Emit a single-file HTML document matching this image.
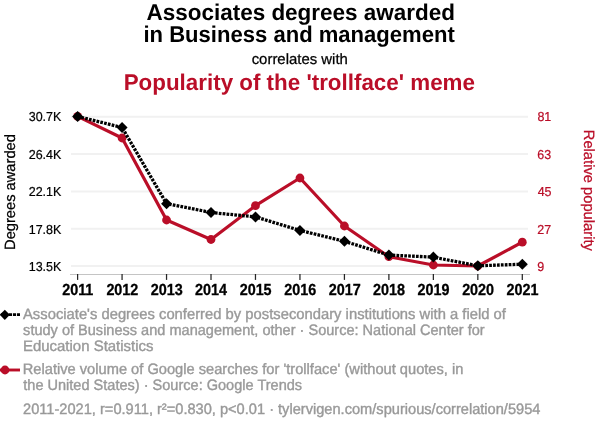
<!DOCTYPE html>
<html><head><meta charset="utf-8"><title>chart</title>
<style>html,body{margin:0;padding:0;background:#fff;}body{width:600px;height:430px;overflow:hidden;font-family:"Liberation Sans",sans-serif;}svg{display:block;will-change:transform;text-rendering:geometricPrecision;}text{font-family:"Liberation Sans",sans-serif;white-space:pre;}</style></head><body>
<svg width="600" height="430" viewBox="0 0 600 430">
<rect width="600" height="430" fill="#fff"/>
<line x1="71" x2="528" y1="116.70" y2="116.70" stroke="#f1f1f1" stroke-width="2"/>
<line x1="71" x2="528" y1="154.05" y2="154.05" stroke="#f1f1f1" stroke-width="2"/>
<line x1="71" x2="528" y1="191.40" y2="191.40" stroke="#f1f1f1" stroke-width="2"/>
<line x1="71" x2="528" y1="228.75" y2="228.75" stroke="#f1f1f1" stroke-width="2"/>
<line x1="71" x2="528" y1="266.10" y2="266.10" stroke="#f1f1f1" stroke-width="2"/>
<line x1="70" x2="530" y1="274.5" y2="274.5" stroke="#c4c4c4" stroke-width="1"/>
<line x1="77.60" x2="77.60" y1="274" y2="279.9" stroke="#262626" stroke-width="1.25"/>
<line x1="122.07" x2="122.07" y1="274" y2="279.9" stroke="#262626" stroke-width="1.25"/>
<line x1="166.54" x2="166.54" y1="274" y2="279.9" stroke="#262626" stroke-width="1.25"/>
<line x1="211.01" x2="211.01" y1="274" y2="279.9" stroke="#262626" stroke-width="1.25"/>
<line x1="255.48" x2="255.48" y1="274" y2="279.9" stroke="#262626" stroke-width="1.25"/>
<line x1="299.95" x2="299.95" y1="274" y2="279.9" stroke="#262626" stroke-width="1.25"/>
<line x1="344.42" x2="344.42" y1="274" y2="279.9" stroke="#262626" stroke-width="1.25"/>
<line x1="388.89" x2="388.89" y1="274" y2="279.9" stroke="#262626" stroke-width="1.25"/>
<line x1="433.36" x2="433.36" y1="274" y2="279.9" stroke="#262626" stroke-width="1.25"/>
<line x1="477.83" x2="477.83" y1="274" y2="279.9" stroke="#262626" stroke-width="1.25"/>
<line x1="522.30" x2="522.30" y1="274" y2="279.9" stroke="#262626" stroke-width="1.25"/>
<polyline points="77.60,116.40 122.07,138.00 166.54,220.00 211.01,239.50 255.48,205.70 299.95,178.00 344.42,226.00 388.89,256.70 433.36,265.00 477.83,266.00 522.30,242.20" fill="none" stroke="#ba0e28" stroke-width="3.2" stroke-linejoin="round"/>
<circle cx="77.60" cy="116.40" r="4.4" fill="#ba0e28"/>
<circle cx="122.07" cy="138.00" r="4.4" fill="#ba0e28"/>
<circle cx="166.54" cy="220.00" r="4.4" fill="#ba0e28"/>
<circle cx="211.01" cy="239.50" r="4.4" fill="#ba0e28"/>
<circle cx="255.48" cy="205.70" r="4.4" fill="#ba0e28"/>
<circle cx="299.95" cy="178.00" r="4.4" fill="#ba0e28"/>
<circle cx="344.42" cy="226.00" r="4.4" fill="#ba0e28"/>
<circle cx="388.89" cy="256.70" r="4.4" fill="#ba0e28"/>
<circle cx="433.36" cy="265.00" r="4.4" fill="#ba0e28"/>
<circle cx="477.83" cy="266.00" r="4.4" fill="#ba0e28"/>
<circle cx="522.30" cy="242.20" r="4.4" fill="#ba0e28"/>
<polyline points="77.60,116.40 122.07,127.50 166.54,203.70 211.01,212.50 255.48,216.90 299.95,230.40 344.42,241.30 388.89,255.10 433.36,257.10 477.83,265.80 522.30,264.20" fill="none" stroke="#000" stroke-width="3.3" stroke-dasharray="2.7,1.2" stroke-linejoin="round"/>
<path d="M72.10,116.40L77.60,110.90L83.10,116.40L77.60,121.90Z" fill="#000"/>
<path d="M116.57,127.50L122.07,122.00L127.57,127.50L122.07,133.00Z" fill="#000"/>
<path d="M161.04,203.70L166.54,198.20L172.04,203.70L166.54,209.20Z" fill="#000"/>
<path d="M205.51,212.50L211.01,207.00L216.51,212.50L211.01,218.00Z" fill="#000"/>
<path d="M249.98,216.90L255.48,211.40L260.98,216.90L255.48,222.40Z" fill="#000"/>
<path d="M294.45,230.40L299.95,224.90L305.45,230.40L299.95,235.90Z" fill="#000"/>
<path d="M338.92,241.30L344.42,235.80L349.92,241.30L344.42,246.80Z" fill="#000"/>
<path d="M383.39,255.10L388.89,249.60L394.39,255.10L388.89,260.60Z" fill="#000"/>
<path d="M427.86,257.10L433.36,251.60L438.86,257.10L433.36,262.60Z" fill="#000"/>
<path d="M472.33,265.80L477.83,260.30L483.33,265.80L477.83,271.30Z" fill="#000"/>
<path d="M516.80,264.20L522.30,258.70L527.80,264.20L522.30,269.70Z" fill="#000"/>
<line x1="20" x2="0" y1="314.6" y2="314.6" stroke="#000" stroke-width="2.8" stroke-dasharray="3.1,0.9"/>
<path d="M-0.30,314.80L4.80,309.70L9.90,314.80L4.80,319.90Z" fill="#000"/>
<line x1="0" x2="20" y1="370" y2="370" stroke="#ba0e28" stroke-width="2.9"/><circle cx="5" cy="370" r="4.4" fill="#ba0e28"/>
<text transform="translate(146.47,19.60) scale(1.0079,1.02)" font-size="22.3" font-weight="bold" fill="#000">Associates degrees awarded</text>
<text transform="translate(143.42,41.70) scale(0.9895,1.02)" font-size="22.3" font-weight="bold" fill="#000">in Business and management</text>
<text transform="translate(123.70,89.60) scale(1.0032,1.02)" font-size="22.3" font-weight="bold" fill="#ba0e28">Popularity of the &#x27;trollface&#x27; meme</text>
<text transform="translate(251.66,63.90) scale(1.0227,1.02)" font-size="14.6" font-weight="normal" fill="#000" stroke="#000" stroke-width="0.25">correlates with</text>
<text transform="translate(28.70,121.00) scale(0.9850,1.02)" font-size="12.7" font-weight="normal" fill="#000" stroke="#000" stroke-width="0.2">30.7K</text>
<text transform="translate(537.41,121.00) scale(0.9850,1.02)" font-size="12.7" font-weight="normal" fill="#ba0e28" stroke="#ba0e28" stroke-width="0.2">81</text>
<text transform="translate(28.70,159.00) scale(0.9850,1.02)" font-size="12.7" font-weight="normal" fill="#000" stroke="#000" stroke-width="0.2">26.4K</text>
<text transform="translate(537.28,159.00) scale(0.9850,1.02)" font-size="12.7" font-weight="normal" fill="#ba0e28" stroke="#ba0e28" stroke-width="0.2">63</text>
<text transform="translate(28.70,196.00) scale(0.9850,1.02)" font-size="12.7" font-weight="normal" fill="#000" stroke="#000" stroke-width="0.2">22.1K</text>
<text transform="translate(537.65,196.00) scale(0.9850,1.02)" font-size="12.7" font-weight="normal" fill="#ba0e28" stroke="#ba0e28" stroke-width="0.2">45</text>
<text transform="translate(28.70,234.00) scale(0.9850,1.02)" font-size="12.7" font-weight="normal" fill="#000" stroke="#000" stroke-width="0.2">17.8K</text>
<text transform="translate(537.28,234.00) scale(0.9850,1.02)" font-size="12.7" font-weight="normal" fill="#ba0e28" stroke="#ba0e28" stroke-width="0.2">27</text>
<text transform="translate(28.70,271.00) scale(0.9850,1.02)" font-size="12.7" font-weight="normal" fill="#000" stroke="#000" stroke-width="0.2">13.5K</text>
<text transform="translate(537.28,271.00) scale(0.9850,1.02)" font-size="12.7" font-weight="normal" fill="#ba0e28" stroke="#ba0e28" stroke-width="0.2">9</text>
<text transform="translate(62.21,294.50) scale(0.9450,1.05)" font-size="15.2" font-weight="bold" fill="#000" stroke="#000" stroke-width="0.3">2011</text>
<text transform="translate(106.38,294.50) scale(0.9450,1.05)" font-size="15.2" font-weight="bold" fill="#000" stroke="#000" stroke-width="0.3">2012</text>
<text transform="translate(150.79,294.50) scale(0.9450,1.05)" font-size="15.2" font-weight="bold" fill="#000" stroke="#000" stroke-width="0.3">2013</text>
<text transform="translate(195.03,294.50) scale(0.9450,1.05)" font-size="15.2" font-weight="bold" fill="#000" stroke="#000" stroke-width="0.3">2014</text>
<text transform="translate(239.67,294.50) scale(0.9450,1.05)" font-size="15.2" font-weight="bold" fill="#000" stroke="#000" stroke-width="0.3">2015</text>
<text transform="translate(284.20,294.50) scale(0.9450,1.05)" font-size="15.2" font-weight="bold" fill="#000" stroke="#000" stroke-width="0.3">2016</text>
<text transform="translate(328.73,294.50) scale(0.9450,1.05)" font-size="15.2" font-weight="bold" fill="#000" stroke="#000" stroke-width="0.3">2017</text>
<text transform="translate(373.08,294.50) scale(0.9450,1.05)" font-size="15.2" font-weight="bold" fill="#000" stroke="#000" stroke-width="0.3">2018</text>
<text transform="translate(417.61,294.50) scale(0.9450,1.05)" font-size="15.2" font-weight="bold" fill="#000" stroke="#000" stroke-width="0.3">2019</text>
<text transform="translate(462.14,294.50) scale(0.9450,1.05)" font-size="15.2" font-weight="bold" fill="#000" stroke="#000" stroke-width="0.3">2020</text>
<text transform="translate(506.49,294.50) scale(0.9450,1.05)" font-size="15.2" font-weight="bold" fill="#000" stroke="#000" stroke-width="0.3">2021</text>
<text transform="translate(14.90,249.96) rotate(-90) scale(1.0058,1.02)" font-size="14.6" font-weight="normal" fill="#000" stroke="#000" stroke-width="0.25">Degrees awarded</text>
<text transform="translate(584.00,129.79) rotate(90) scale(1.0084,1.02)" font-size="14.6" font-weight="normal" fill="#ba0e28" stroke="#ba0e28" stroke-width="0.25">Relative popularity</text>
<text transform="translate(23.00,318.60) scale(0.9995,1.02)" font-size="14.8" font-weight="normal" fill="#999999" stroke="#999999" stroke-width="0.38">Associate&#x27;s degrees conferred by postsecondary institutions with a field of</text>
<text transform="translate(23.11,334.60) scale(0.9828,1.02)" font-size="14.8" font-weight="normal" fill="#999999" stroke="#999999" stroke-width="0.38">study of Business and management, other · Source: National Center for</text>
<text transform="translate(22.94,350.60) scale(1.0112,1.02)" font-size="14.8" font-weight="normal" fill="#999999" stroke="#999999" stroke-width="0.38">Education Statistics</text>
<text transform="translate(22.76,374.40) scale(0.9905,1.02)" font-size="14.8" font-weight="normal" fill="#999999" stroke="#999999" stroke-width="0.38">Relative volume of Google searches for &#x27;trollface&#x27; (without quotes, in</text>
<text transform="translate(23.25,390.20) scale(0.9827,1.02)" font-size="14.8" font-weight="normal" fill="#999999" stroke="#999999" stroke-width="0.38">the United States) · Source: Google Trends</text>
<text transform="translate(23.06,413.60) scale(0.9877,1.02)" font-size="14.8" font-weight="normal" fill="#999999" stroke="#999999" stroke-width="0.38">2011-2021, r=0.911, r²=0.830, p&lt;0.01 · tylervigen.com/spurious/correlation/5954</text>
</svg></body></html>
